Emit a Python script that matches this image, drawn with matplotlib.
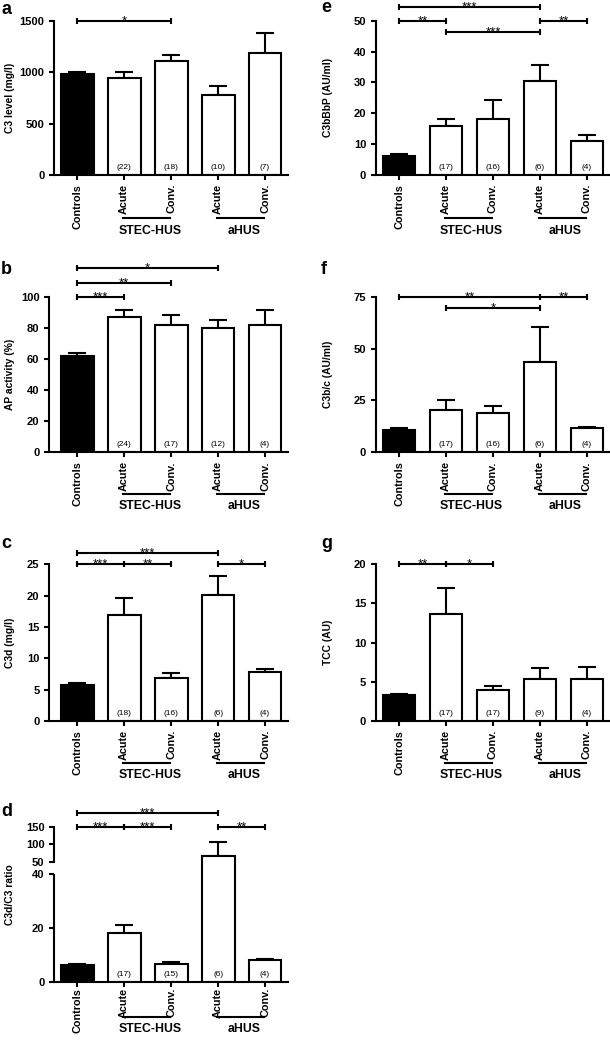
import matplotlib
matplotlib.use('Agg')
import matplotlib.pyplot as plt
import matplotlib.transforms as mtransforms
import numpy as np

plt.rcParams['font.family'] = ['Liberation Sans', 'DejaVu Sans']
plt.rcParams['font.weight'] = 'bold'
plt.rcParams['axes.labelweight'] = 'bold'

# data
groups = ['Controls', 'Acute', 'Conv.', 'Acute', 'Conv.']
cohorts = ['STEC-HUS', 'aHUS']

c3_level = [985, 945, 1110, 775, 1190]
c3_level_sem = [15, 60, 55, 90, 195]
c3_level_n = ['', '(22)', '(18)', '(10)', '(7)']

ap_act = [62, 87, 82, 80, 82]
ap_act_sem = [2, 4.2, 6.4, 5.3, 9.6]
ap_act_n = ['', '(24)', '(17)', '(12)', '(4)']

c3d = [5.8, 16.9, 6.8, 20.1, 7.8]
c3d_sem = [0.3, 2.7, 0.8, 3.1, 0.5]
c3d_n = ['', '(18)', '(16)', '(6)', '(4)']

c3d_ratio = [6.1, 18.2, 6.5, 65, 7.9]
c3d_ratio_sem = [0.3, 2.9, 0.7, 42, 0.7]
c3d_ratio_n = ['', '(17)', '(15)', '(6)', '(4)']

c3bbbp = [6.2, 16.0, 18.2, 30.6, 11.0]
c3bbbp_sem = [0.5, 2.1, 6.1, 5.0, 2.0]
c3bbbp_n = ['', '(17)', '(16)', '(6)', '(4)']

c3bc = [10.8, 20.6, 18.8, 43.4, 11.7]
c3bc_sem = [0.9, 4.5, 3.4, 16.8, 0.6]
c3bc_n = ['', '(17)', '(16)', '(6)', '(4)']

tcc = [3.3, 13.7, 4.0, 5.3, 5.4]
tcc_sem = [0.2, 3.3, 0.45, 1.45, 1.5]
tcc_n = ['', '(17)', '(17)', '(9)', '(4)']

# significance brackets: (from, to, level, stars)
sig_a = [(0, 2, 1500, '*')]
sig_b = [(0, 1, 100, '***'), (0, 2, 108.6, '**'), (0, 3, 118.3, '*')]
sig_c = [(0, 1, 25, '***'), (1, 2, 25, '**'), (0, 3, 26.85, '***'), (3, 4, 25, '*')]
sig_d = [(0, 1, 150, '***'), (1, 2, 150, '***'), (0, 3, 188, '***'), (3, 4, 150, '**')]
sig_e = [(0, 1, 50, '**'), (3, 4, 50, '**'), (0, 3, 54.5, '***'), (1, 3, 46.2, '***')]
sig_f = [(0, 3, 75, '**'), (3, 4, 75, '**'), (1, 3, 69.7, '*')]
sig_g = [(0, 1, 20, '**'), (1, 2, 20, '*')]

W, H = 610, 1041
fig = plt.figure(figsize=(W / 100, H / 100), dpi=100)
x = np.arange(len(groups))
colors = ['black', 'white', 'white', 'white', 'white']
LW = 1.5


def px_axes(x0, x1, ytop, ybot):
    return fig.add_axes([x0 / W, 1 - ybot / H, (x1 - x0) / W, (ybot - ytop) / H])


def style(ax, xl):
    for s in ['top', 'right']:
        ax.spines[s].set_visible(False)
    for s in ['left', 'bottom']:
        ax.spines[s].set_linewidth(LW)
    ax.tick_params(width=LW, length=3.6, labelsize=8)
    ax.set_xlim(xl, 4.49)


def bars(ax, vals, sem, idx=None):
    idx = list(range(len(vals))) if idx is None else idx
    v = np.array(vals, dtype=float)[idx]
    e = np.array(sem, dtype=float)[idx]
    xx = x[idx]
    ax.errorbar(xx, v, yerr=[np.zeros_like(e), e], fmt='none', ecolor='black',
                elinewidth=LW, capsize=6.5, capthick=LW, zorder=1)
    ax.bar(xx, v, width=0.7, color=[colors[i] for i in idx], edgecolor='black',
           linewidth=LW, zorder=2)


def nlabels(ax, ns):
    for i, n in enumerate(ns):
        if n:
            ax.annotate(n, xy=(i, 0), xytext=(0, 3), textcoords='offset points',
                        ha='center', va='bottom', fontsize=6, fontweight='normal',
                        zorder=3)


def brackets(ax, sigs):
    for i, j, lev, st in sigs:
        ax.plot([i, j], [lev, lev], color='black', lw=LW, marker='|', ms=5,
                mew=LW, clip_on=False, zorder=4)
        ax.annotate(st, xy=((i + j) / 2, lev), xytext=(0, -2.5),
                    textcoords='offset points', ha='center', va='baseline',
                    fontsize=9.5, fontweight='normal', annotation_clip=False)


def xlabels(ax, pad, line_off, text_off):
    ax.set_xticks(x)
    ax.set_xticklabels(groups, rotation=90, fontsize=7.8)
    ax.tick_params(axis='x', pad=pad)
    tr_line = ax.get_xaxis_transform() + mtransforms.ScaledTranslation(0, -line_off / 100, fig.dpi_scale_trans)
    tr_text = ax.get_xaxis_transform() + mtransforms.ScaledTranslation(0, -text_off / 100, fig.dpi_scale_trans)
    for k, name in enumerate(cohorts):
        a0, a1 = 0.98 + 2 * k, 1.97 + 2 * k
        ax.plot([a0, a1], [0, 0], color='black', lw=LW, transform=tr_line, clip_on=False)
        ax.text((a0 + a1) / 2 + 0.07, 0, name, transform=tr_text, ha='center',
                va='center', fontsize=8.8)


def ylabel(ax, text, xpx, ypx):
    ax.set_ylabel(text, fontsize=7.4)
    ax.yaxis.set_label_coords(xpx / W, 1 - ypx / H, transform=fig.transFigure)


def letter(ch, xpx, ypx):
    fig.text(xpx / W, 1 - ypx / H, ch, fontsize=13, fontweight='bold', ha='left', va='center')


def panel(rect, xl, vals, sem, ns, ylim, yticks, sigs, lab, lab_x, let, let_xy,
          pad=2.8, line_off=42.7, text_off=55.5):
    ax = px_axes(*rect)
    style(ax, xl)
    bars(ax, vals, sem)
    nlabels(ax, ns)
    ax.set_ylim(*ylim)
    ax.set_yticks(yticks)
    brackets(ax, sigs)
    xlabels(ax, pad, line_off, text_off)
    ylabel(ax, lab, lab_x, (rect[2] + rect[3]) / 2)
    letter(let, *let_xy)
    return ax


panel((54.3, 288, 20.7, 175), -0.49, c3_level, c3_level_sem, c3_level_n, (0, 1500),
      [0, 500, 1000, 1500], sig_a, 'C3 level (mg/l)', 15, 'a', (1, 9))
panel((49.3, 288, 296.7, 452.3), -0.596, ap_act, ap_act_sem, ap_act_n, (0, 100),
      [0, 20, 40, 60, 80, 100], sig_b, 'AP activity (%)', 15, 'b', (1, 270), line_off=41.8, text_off=54)
panel((49.3, 288, 564.3, 721), -0.596, c3d, c3d_sem, c3d_n, (0, 25),
      [0, 5, 10, 15, 20, 25], sig_c, 'C3d (mg/l)', 15, 'c', (1, 543), line_off=41.8, text_off=54)
panel((376, 610, 20.7, 175), -0.49, c3bbbp, c3bbbp_sem, c3bbbp_n, (0, 50),
      [0, 10, 20, 30, 40, 50], sig_e, 'C3bBbP (AU/ml)', 333, 'e', (321, 8))
panel((376, 610, 296.7, 452.3), -0.49, c3bc, c3bc_sem, c3bc_n, (0, 75),
      [0, 25, 50, 75], sig_f, 'C3b/c (AU/ml)', 333, 'f', (321, 270), line_off=41.8, text_off=54)
panel((376, 610, 564.3, 721), -0.49, tcc, tcc_sem, tcc_n, (0, 20),
      [0, 5, 10, 15, 20], sig_g, 'TCC (AU)', 333, 'g', (321, 543), line_off=41.8, text_off=54)

# panel d: broken y axis
brk = 40
ax_lo = px_axes(54.3, 288, 874, 981.7)
style(ax_lo, -0.49)
bars(ax_lo, c3d_ratio, c3d_ratio_sem)
nlabels(ax_lo, c3d_ratio_n)
ax_lo.set_ylim(0, brk)
ax_lo.set_yticks([0, 20, 40])
xlabels(ax_lo, 0.8, 35.3, 47.5)
ylabel(ax_lo, 'C3d/C3 ratio', 15, 895)

ax_hi = px_axes(54.3, 288, 826.7, 874)
style(ax_hi, -0.49)
ax_hi.spines['bottom'].set_visible(False)
ax_hi.tick_params(axis='x', bottom=False, labelbottom=False)
# 50..150 spans 35 px, axes bottom sits 12.3 px below the 50 tick
ax_hi.set_ylim(150 - (874 - 826.7) * 100 / 35, 150)
ax_hi.set_yticks([50, 100, 150])
ax_hi.spines['left'].set_bounds(50, 150)
bars(ax_hi, c3d_ratio, c3d_ratio_sem, idx=[i for i, v in enumerate(c3d_ratio) if v > brk])
brackets(ax_hi, sig_d)
letter('d', 1, 812)

fig.savefig('out.png', dpi=100)
